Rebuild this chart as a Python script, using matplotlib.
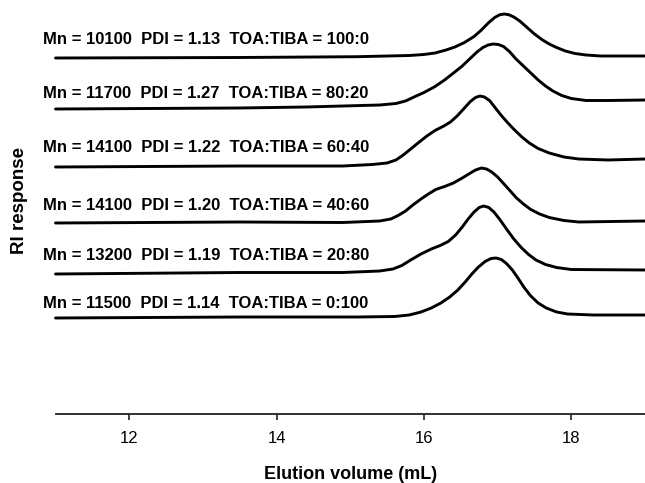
import matplotlib
matplotlib.use("Agg")
import matplotlib.pyplot as plt

plt.rcParams['font.family'] = ['Liberation Sans', 'DejaVu Sans']

# Elution volume (mL) / RI response (arbitrary units, traces stacked)
x_100_0 = [11.0, 13.5, 15.1, 15.8, 16.0, 16.15, 16.3, 16.42, 16.55, 16.68, 16.78, 16.88,
           16.96, 17.03, 17.09, 17.15, 17.22, 17.30, 17.40, 17.50, 17.60, 17.70, 17.80,
           17.92, 18.05, 18.2, 18.4, 19.0]
y_100_0 = [356, 356.5, 357.3, 358.5, 359.5, 361, 364, 367, 371.5, 377.5, 384, 391.5,
           396.5, 399.3, 400, 399.3, 397, 393, 386.5, 380, 374.5, 370, 366.5,
           363, 360.5, 359, 358, 358]

x_80_20 = [11.0, 13.5, 14.4, 14.9, 15.4, 15.62, 15.75, 15.88, 16.0, 16.14, 16.28, 16.41,
           16.52, 16.62, 16.72, 16.80, 16.87, 16.94, 17.01, 17.08, 17.16, 17.25, 17.35,
           17.45, 17.55, 17.65, 17.75, 17.87, 18.0, 18.2, 18.5, 19.0]
y_80_20 = [305, 306, 307, 308, 309, 310.5, 313, 317.5, 321.5, 327, 334, 341.5,
           348, 355, 362, 366.5, 369, 370, 369.5, 367.5, 362.5, 355, 348,
           341, 334, 328, 323, 318.5, 315.5, 313.5, 313.5, 314]

x_60_40 = [11.0, 13.5, 14.9, 15.3, 15.5, 15.62, 15.72, 15.82, 15.92, 16.04, 16.15, 16.27,
           16.36, 16.45, 16.55, 16.63, 16.70, 16.76, 16.82, 16.89, 16.97, 17.05, 17.14,
           17.23, 17.33, 17.43, 17.55, 17.7, 17.9, 18.1, 18.5, 19.0]
y_60_40 = [247, 248, 248, 249.5, 251, 254, 259, 265, 271, 278, 283.5, 288,
           292, 298, 306, 312.5, 316.5, 318, 317, 313.5, 306, 298.5, 291,
           284, 277, 271, 265.5, 261, 257, 255, 254, 255]

x_40_60 = [11.0, 13.5, 14.9, 15.4, 15.55, 15.65, 15.75, 15.85, 15.96, 16.06, 16.16, 16.28,
           16.40, 16.52, 16.62, 16.70, 16.78, 16.85, 16.92, 17.0, 17.08, 17.16, 17.25,
           17.35, 17.45, 17.57, 17.7, 17.9, 18.1, 19.0]
y_40_60 = [191, 192, 191.5, 193, 195, 198.5, 203, 209, 215, 220, 224.5, 227.5,
           231, 236, 240.5, 244, 246, 245, 242, 237, 230.5, 224, 216.5,
           210, 204.5, 200, 196.5, 193.5, 192, 193]

x_20_80 = [11.0, 13.5, 14.9, 15.4, 15.58, 15.7, 15.82, 15.96, 16.10, 16.22, 16.33, 16.43,
           16.52, 16.60, 16.68, 16.75, 16.81, 16.88, 16.95, 17.03, 17.12, 17.22, 17.32,
           17.42, 17.52, 17.65, 17.8, 18.0, 19.0]
y_20_80 = [140, 141.5, 141.5, 143, 145, 148.5, 154, 160, 165, 168.5, 172.5, 179,
           187, 195, 202, 206.5, 208, 206.5, 202, 194.5, 185, 175, 166.5,
           159.5, 154, 149.5, 146.5, 144.5, 144]

x_0_100 = [11.0, 13.5, 15.1, 15.6, 15.8, 15.96, 16.10, 16.23, 16.35, 16.46, 16.56, 16.65,
           16.74, 16.83, 16.91, 16.98, 17.05, 17.12, 17.20, 17.28, 17.36, 17.45, 17.55,
           17.66, 17.8, 17.95, 18.3, 19.0]
y_0_100 = [96, 97, 97, 97.5, 99, 102, 106, 111, 117, 124, 132, 140,
           147, 152.5, 155.5, 156, 154.5, 150.5, 144, 135.5, 126.5, 118, 111,
           106, 102, 100, 99, 99]

labels = [
    "Mn = 10100  PDI = 1.13  TOA:TIBA = 100:0",
    "Mn = 11700  PDI = 1.27  TOA:TIBA = 80:20",
    "Mn = 14100  PDI = 1.22  TOA:TIBA = 60:40",
    "Mn = 14100  PDI = 1.20  TOA:TIBA = 40:60",
    "Mn = 13200  PDI = 1.19  TOA:TIBA = 20:80",
    "Mn = 11500  PDI = 1.14  TOA:TIBA = 0:100",
]
label_levels = [375, 321, 267, 209, 158, 111]

xs = [x_100_0, x_80_20, x_60_40, x_40_60, x_20_80, x_0_100]
ys = [y_100_0, y_80_20, y_60_40, y_40_60, y_20_80, y_0_100]

xticks = [12, 14, 16, 18]

fig = plt.figure(figsize=(6.45, 4.83), dpi=100)
ax = fig.add_axes([55.5 / 645, 69 / 483, (645 - 55.5) / 645, 414 / 483])

for x, y in zip(xs, ys):
    ax.plot(x, y, color='black', lw=2.1, solid_joinstyle='round',
            solid_capstyle='round', clip_on=False)

for lab, lv in zip(labels, label_levels):
    ax.text(10.83, lv, lab, ha='left', va='center', fontsize=12,
            fontweight='bold', clip_on=False)

ax.set_xlim(11, 19)
ax.set_ylim(0, 414)
ax.set_xticks(xticks)
ax.set_xticklabels([str(t) for t in xticks], fontsize=12)
ax.set_yticks([])
for s in ['left', 'top', 'right']:
    ax.spines[s].set_visible(False)
ax.spines['bottom'].set_linewidth(1.3)
ax.spines['bottom'].set_color('#222222')
ax.tick_params(axis='x', direction='out', length=4.5, width=1.2, color='#222222', pad=8)

ax.set_xlabel("Elution volume (mL)", fontsize=13, fontweight='bold', labelpad=14)
fig.text(20 / 645, 1 - 200 / 483, "RI response", rotation=90, ha='center', va='center',
         fontsize=13.5, fontweight='bold')

fig.savefig("out.png", dpi=100)
